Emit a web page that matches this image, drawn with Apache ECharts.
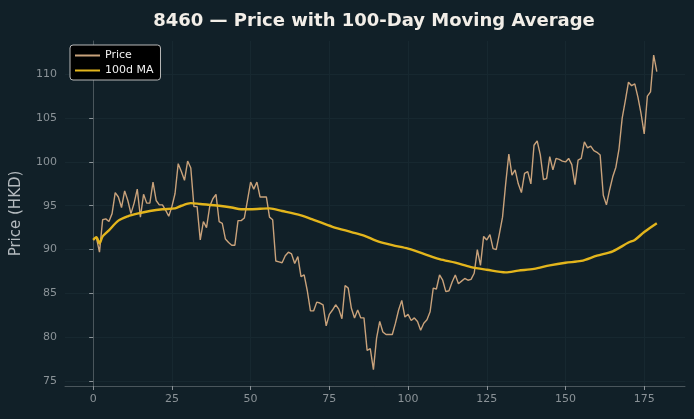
<!DOCTYPE html>
<html>
<head>
<meta charset="utf-8">
<script src="https://cdn.jsdelivr.net/npm/echarts@6/dist/echarts.min.js"></script>
<style>
  html, body { margin: 0; padding: 0; background: #112028; }
  #chart { width: 694px; height: 419px; }
</style>
</head>
<body>
<div id="chart"></div>
<script>
// daily closing price, one value per trading day (index 0..179)
const price = [
  91.1, 91.4, 89.7, 93.4, 93.5, 93.2, 94.1, 96.5, 96.0, 94.8,
  96.7, 95.6, 94.1, 95.3, 96.9, 93.7, 96.3, 95.3, 95.3, 97.7,
  95.6, 95.1, 95.1, 94.5, 93.8, 94.9, 96.4, 99.8, 98.9, 97.9,
  100.1, 99.3, 94.9, 94.9, 91.1, 93.2, 92.5, 94.9, 95.8, 96.3,
  93.2, 93.0, 91.2, 90.8, 90.5, 90.5, 93.3, 93.3, 93.6, 95.6,
  97.7, 96.9, 97.7, 96.0, 96.0, 96.0, 93.7, 93.4, 88.7, 88.6,
  88.5, 89.3, 89.7, 89.5, 88.4, 89.2, 86.9, 87.1, 85.3, 83.0,
  83.0, 84.0, 83.9, 83.7, 81.3, 82.6, 83.1, 83.7, 83.2, 82.1,
  85.9, 85.6, 83.3, 82.2, 83.1, 82.2, 82.2, 78.5, 78.7, 76.3,
  79.9, 81.8, 80.6, 80.3, 80.3, 80.3, 81.6, 83.1, 84.2, 82.3,
  82.6, 81.9, 82.2, 81.8, 80.8, 81.6, 82.0, 82.9, 85.6, 85.5,
  87.1, 86.5, 85.2, 85.3, 86.3, 87.1, 86.1, 86.4, 86.7, 86.5,
  86.6, 87.3, 90.0, 88.2, 91.5, 91.1, 91.7, 90.1, 90.0, 91.8,
  93.7, 97.5, 100.9, 98.5, 99.1, 97.5, 96.5, 98.7, 98.9, 97.5,
  101.9, 102.4, 100.8, 98.0, 98.1, 100.6, 99.1, 100.4, 100.3, 100.1,
  100.0, 100.4, 99.7, 97.4, 100.2, 100.4, 102.3, 101.6, 101.8, 101.3,
  101.1, 100.8, 96.2, 95.1, 96.8, 98.3, 99.4, 101.5, 105.0, 107.0,
  109.1, 108.7, 108.9, 107.4, 105.5, 103.2, 107.5, 108.0, 112.2, 110.3
];

// 100-day moving average at these day indexes
const maDays = [0, 1, 2, 3, 5, 8, 11, 14, 18, 22, 26, 28, 31, 34, 40, 44, 47, 50, 56, 60,
  66, 70, 76, 82, 86, 90, 95, 100, 105, 110, 115, 120, 125, 131, 135, 140, 145, 150, 155, 160,
  165, 170, 172, 175, 179];
const maValues = [91.1, 91.4, 90.7, 91.5, 92.2, 93.3, 93.8, 94.1, 94.4, 94.6, 94.7, 95.0, 95.3, 95.2, 95.0, 94.8, 94.6, 94.6, 94.7, 94.4,
  93.9, 93.4, 92.6, 92.0, 91.6, 91.0, 90.5, 90.1, 89.5, 88.9, 88.5, 88.0, 87.7, 87.4, 87.6, 87.8, 88.2, 88.5, 88.7, 89.3,
  89.8, 90.8, 91.1, 92.0, 93.0];

const xTicks = [0, 25, 50, 75, 100, 125, 150, 175];
const yTicks = [75, 80, 85, 90, 95, 100, 105, 110];

const chart = echarts.init(document.getElementById('chart'));

const axisText = { color: '#8a9297', fontSize: 11, fontFamily: 'DejaVu Sans' };
const gridLine = { show: true, lineStyle: { color: '#172830', width: 1 } };

chart.setOption({
  backgroundColor: '#112028',
  animation: false,
  title: {
    text: '8460 — Price with 100-Day Moving Average',
    left: 369,
    textAlign: 'center',
    top: 7,
    textStyle: { color: '#f2eee8', fontSize: 18, fontWeight: 'bold', fontFamily: 'DejaVu Sans' }
  },
  legend: {
    orient: 'vertical',
    left: 70,
    top: 45,
    backgroundColor: '#000000',
    borderColor: '#b8b8b8',
    borderWidth: 1,
    borderRadius: 3,
    padding: [5, 7, 4, 5],
    itemGap: 4,
    itemWidth: 25,
    itemHeight: 2,
    icon: 'rect',
    textStyle: { color: '#f0f0f0', fontSize: 11, fontFamily: 'DejaVu Sans' },
    data: ['Price', '100d MA']
  },
  grid: { left: 65, right: 9, top: 41, bottom: 33 },
  xAxis: {
    type: 'value',
    min: -8.95,
    max: 187.95,
    axisLine: { show: true, lineStyle: { color: '#4a565c' } },
    axisTick: { show: true, customValues: xTicks, length: 4, lineStyle: { color: '#8a9297' } },
    axisLabel: Object.assign({ customValues: xTicks, margin: 8 }, axisText),
    splitLine: gridLine
  },
  yAxis: {
    type: 'value',
    min: 74.43,
    max: 113.8,
    name: 'Price (HKD)',
    nameLocation: 'middle',
    nameGap: 41,
    nameTextStyle: { color: '#b5bbbf', fontSize: 15, fontFamily: 'DejaVu Sans' },
    axisLine: { show: true, lineStyle: { color: '#4a565c' } },
    axisTick: { show: true, customValues: yTicks, length: 4, lineStyle: { color: '#8a9297' } },
    axisLabel: Object.assign({ customValues: yTicks, margin: 8 }, axisText),
    splitLine: gridLine
  },
  series: [
    {
      name: 'Price',
      type: 'line',
      data: price.map((v, i) => [i, v]),
      showSymbol: false,
      lineStyle: { color: '#c9a27b', width: 1.4 },
      itemStyle: { color: '#c9a27b' },
      z: 2
    },
    {
      name: '100d MA',
      type: 'line',
      data: maDays.map((d, i) => [d, maValues[i]]),
      showSymbol: false,
      smooth: 0.3,
      lineStyle: { color: '#e3b51c', width: 2.4 },
      itemStyle: { color: '#e3b51c' },
      z: 3
    }
  ]
});
</script>
</body>
</html>
